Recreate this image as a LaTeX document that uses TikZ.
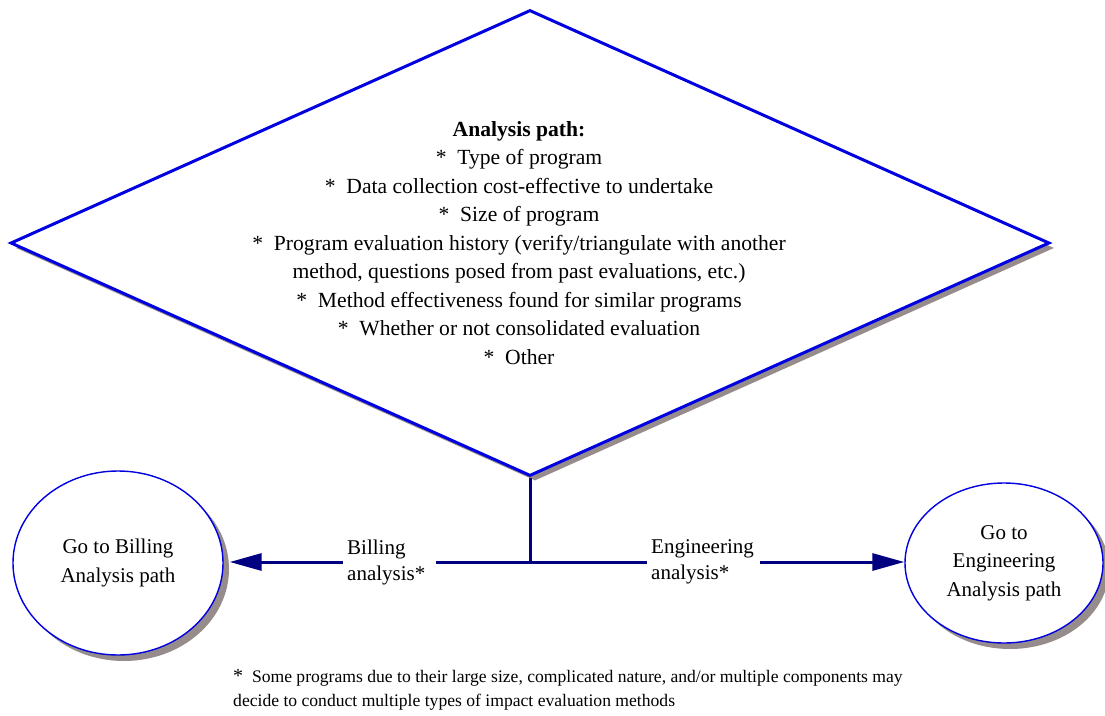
\documentclass[tikz,border=0pt]{standalone}
\usepackage{fontspec}
\setmainfont{Liberation Serif}
\usetikzlibrary{shapes.geometric,arrows.meta,shadows}
\definecolor{blueline}{RGB}{0,0,225}
\definecolor{navyline}{RGB}{0,0,128}
\definecolor{shadowgray}{RGB}{150,140,140}
\begin{document}
\begin{tikzpicture}[x=1pt,y=-1pt,
  gshadow/.style={drop shadow={shadow xshift=#1,shadow yshift=-#1,fill=shadowgray,opacity=1}},
  decision/.style={diamond,draw=blueline,line width=3pt,fill=white,inner sep=0pt,
     minimum width=1039pt,minimum height=466pt,gshadow=5pt},
  target/.style={ellipse,draw=blueline,line width=1.4pt,fill=white,inner sep=0pt,
     align=center,font=\fontsize{21}{28.5}\selectfont,gshadow=6pt},
  conn/.style={draw=navyline,line width=3pt},
  arr/.style={conn,-{Triangle[length=32pt,width=17pt]}},
  lbl/.style={fill=white,align=left,inner xsep=4pt,inner ysep=0pt,anchor=west,
     font=\fontsize{21}{26}\selectfont},
  ]
\useasboundingbox (0,0) rectangle (1105,715);

\node[decision] (dia) at (530,243) {};
\node[align=center,font=\fontsize{21.6}{28.5}\selectfont] (txt) at (519,243)
  {\textbf{Analysis path:}\\
   *\ \ Type of program\\
   *\ \ Data collection cost-effective to undertake\\
   *\ \ Size of program\\
   *\ \ Program evaluation history (verify/triangulate with another\\
   method, questions posed from past evaluations, etc.)\\
   *\ \ Method effectiveness found for similar programs\\
   *\ \ Whether or not consolidated evaluation\\
   *\ \ Other};

\node[target,minimum width=210pt,minimum height=184pt] (bill) at (118,563)
  {Go to Billing\\Analysis path};
\node[target,minimum width=198pt,minimum height=160pt] (eng) at (1004,563)
  {Go to\\Engineering\\Analysis path};

\coordinate (j) at (530,562);
\draw[conn] (dia.south) -- (j);
\draw[arr] (j) -- ([xshift=6pt]bill.east |- j);
\draw[arr] (j) -- (eng.west |- j);

\node[lbl,text width=85pt] (bl) at (343,562) {Billing\\analysis*};
\node[lbl,text width=105pt] (el) at (647,562) {Engineering\\analysis*};

\node[anchor=west,align=left,inner sep=0pt,font=\fontsize{17.6}{24}\selectfont] (note) at (233,690)
  {{\fontsize{20}{24}\selectfont *}\ \ Some programs due to their large size, complicated nature, and/or multiple components may\\
   decide to conduct multiple types of impact evaluation methods};
\end{tikzpicture}
\end{document}
